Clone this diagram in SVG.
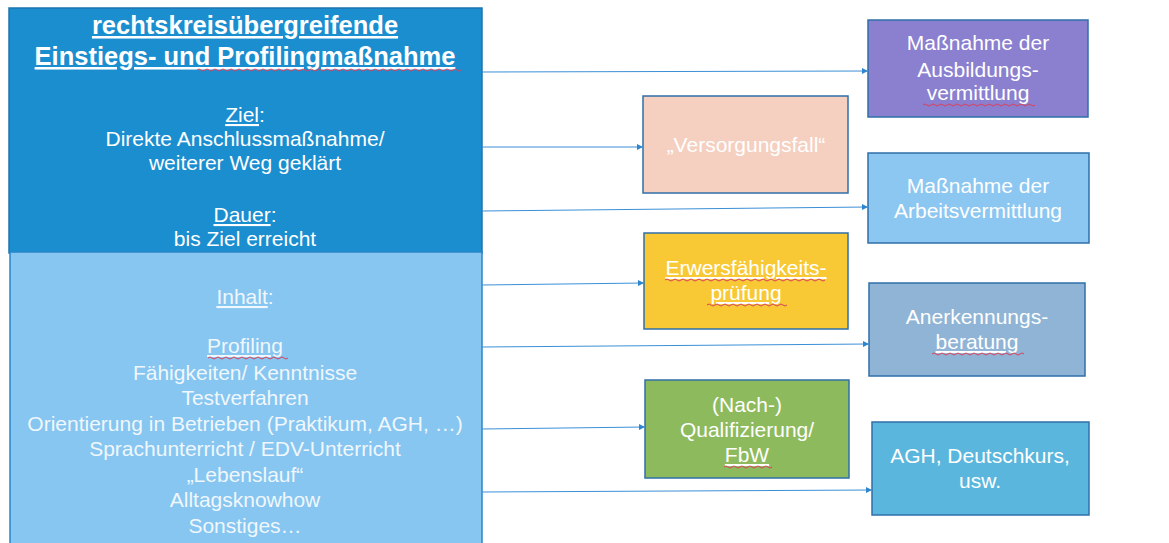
<svg xmlns="http://www.w3.org/2000/svg" width="1169" height="543" viewBox="0 0 1169 543">
<defs>
<style>
.t{font-family:"Liberation Sans",Arial,sans-serif;font-size:21px;text-anchor:middle;fill:#ffffff}
.lt{fill:#f0f7fd}
.b{font-weight:bold;font-size:25.5px}
.u{text-decoration:underline}
.box{stroke:#2f6fa8;stroke-width:1.5}
.c{stroke:#3a8fd6;stroke-width:1;fill:none;marker-end:url(#ah)}
.sp{stroke:#d9405a;stroke-width:1;fill:none}
</style>
<marker id="ah" viewBox="0 0 8 8" refX="8" refY="4" markerWidth="6" markerHeight="6" markerUnits="userSpaceOnUse" orient="auto">
<path d="M0,0 L8,4 L0,8 Z" fill="#2f86cf"/>
</marker>
</defs>
<rect width="1169" height="543" fill="#ffffff"/>

<g id="main">
<rect x="9" y="8" width="473" height="245" fill="#1b8ed0" stroke="#1f74b0" stroke-width="1.5"/>
<rect x="10" y="252" width="472" height="295" fill="#86c6f0" stroke="#2a86c8" stroke-width="1.5"/>
<text class="t b u" x="245" y="34">rechtskreisübergreifende</text>
<text class="t b u" x="245" y="65">Einstiegs- und Profilingmaßnahme</text>
<text class="t" x="245" y="122"><tspan class="u">Ziel</tspan>:</text>
<text class="t" x="245" y="146">Direkte Anschlussmaßnahme/</text>
<text class="t" x="245" y="170">weiterer Weg geklärt</text>
<text class="t" x="245" y="222"><tspan class="u">Dauer</tspan>:</text>
<text class="t" x="245" y="246">bis Ziel erreicht</text>
<text class="t lt" x="245" y="304"><tspan class="u">Inhalt</tspan>:</text>
<text class="t lt u" x="245" y="353">Profiling</text>
<text class="t lt" x="245" y="380">Fähigkeiten/ Kenntnisse</text>
<text class="t lt" x="245" y="405">Testverfahren</text>
<text class="t lt" x="245" y="431">Orientierung in Betrieben (Praktikum, AGH, …)</text>
<text class="t lt" x="245" y="456">Sprachunterricht / EDV-Unterricht</text>
<text class="t lt" x="245" y="482">„Lebenslauf“</text>
<text class="t lt" x="245" y="507">Alltagsknowhow</text>
<text class="t lt" x="245" y="533">Sonstiges…</text>
<path class="sp" d="M197,70 q2,-2 4,0 t4,0 t4,0 t4,0 t4,0 t4,0 t4,0 t4,0 t4,0 t4,0 t4,0 t4,0 t4,0 t4,0 t4,0 t4,0 t4,0 t4,0 t4,0 t4,0 t4,0 t4,0 t4,0 t4,0 t4,0 t4,0 t4,0 t4,0 t4,0 t4,0 t4,0 t4,0 t4,0 t4,0 t4,0 t4,0 t4,0 t4,0 t4,0 t4,0 t4,0 t4,0 t4,0 t4,0 t4,0 t4,0 t4,0 t4,0 t4,0 t4,0 t4,0 t4,0 t4,0 t4,0 t4,0 t4,0 t4,0 t4,0 t4,0 t4,0 t4,0 t4,0 t4,0 t4,0 t4,0 t4,0"/>
<path class="sp" d="M208,358 q2,-2 4,0 t4,0 t4,0 t4,0 t4,0 t4,0 t4,0 t4,0 t4,0 t4,0 t4,0 t4,0 t4,0 t4,0 t4,0 t4,0 t4,0 t4,0 t4,0 t4,0"/>
</g>

<g id="versorgungsfall">
<rect class="box" x="643" y="96" width="205" height="97" fill="#f5cfc0"/>
<text class="t" x="746" y="152" fill="#fbf1ec">„Versorgungsfall“</text>
</g>

<g id="erwerbsfaehigkeit">
<rect class="box" x="644" y="233" width="204" height="96" fill="#f8c935"/>
<text class="t u" x="746" y="275" fill="#fdf1c8">Erwersfähigkeits-</text>
<text class="t u" x="746" y="300" fill="#fdf1c8">prüfung</text>
<path class="sp" d="M665,280 q2,-2 4,0 t4,0 t4,0 t4,0 t4,0 t4,0 t4,0 t4,0 t4,0 t4,0 t4,0 t4,0 t4,0 t4,0 t4,0 t4,0 t4,0 t4,0 t4,0 t4,0 t4,0 t4,0 t4,0 t4,0 t4,0 t4,0 t4,0 t4,0 t4,0 t4,0 t4,0 t4,0 t4,0 t4,0 t4,0 t4,0 t4,0 t4,0 t4,0 t4,0" stroke="#e05a2a"/>
<path class="sp" d="M707,305 q2,-2 4,0 t4,0 t4,0 t4,0 t4,0 t4,0 t4,0 t4,0 t4,0 t4,0 t4,0 t4,0 t4,0 t4,0 t4,0 t4,0 t4,0 t4,0 t4,0 t4,0" stroke="#e05a2a"/>
</g>

<g id="qualifizierung">
<rect class="box" x="645" y="380" width="204" height="98" fill="#8dba5d"/>
<text class="t" x="747" y="412" fill="#eef5e4">(Nach-)</text>
<text class="t" x="747" y="437" fill="#eef5e4">Qualifizierung/</text>
<text class="t u" x="747" y="462" fill="#eef5e4">FbW</text>
<path class="sp" d="M724,467 q2,-2 4,0 t4,0 t4,0 t4,0 t4,0 t4,0 t4,0 t4,0 t4,0 t4,0 t4,0 t4,0"/>
</g>

<g id="ausbildungsvermittlung">
<rect class="box" x="868" y="20" width="220" height="97" fill="#8a80cf"/>
<text class="t" x="978" y="50" fill="#f1effa">Maßnahme der</text>
<text class="t" x="978" y="77" fill="#f1effa">Ausbildungs-</text>
<text class="t" x="978" y="100" fill="#f1effa">vermittlung</text>
<path class="sp" d="M923,105 q2,-2 4,0 t4,0 t4,0 t4,0 t4,0 t4,0 t4,0 t4,0 t4,0 t4,0 t4,0 t4,0 t4,0 t4,0 t4,0 t4,0 t4,0 t4,0 t4,0 t4,0 t4,0 t4,0 t4,0 t4,0 t4,0 t4,0 t4,0 t4,0"/>
</g>

<g id="arbeitsvermittlung">
<rect class="box" x="868" y="153" width="221" height="90" fill="#8cc7f1"/>
<text class="t" x="978" y="193" fill="#f1f8fe">Maßnahme der</text>
<text class="t" x="978" y="218" fill="#f1f8fe">Arbeitsvermittlung</text>
</g>

<g id="anerkennungsberatung">
<rect class="box" x="869" y="283" width="216" height="93" fill="#90b4d5"/>
<text class="t" x="977" y="324" fill="#eef3f9">Anerkennungs-</text>
<text class="t u" x="977" y="349" fill="#eef3f9">beratung</text>
<path class="sp" d="M932,354 q2,-2 4,0 t4,0 t4,0 t4,0 t4,0 t4,0 t4,0 t4,0 t4,0 t4,0 t4,0 t4,0 t4,0 t4,0 t4,0 t4,0 t4,0 t4,0 t4,0 t4,0 t4,0 t4,0 t4,0"/>
</g>

<g id="agh">
<rect class="box" x="872" y="422" width="217" height="93" fill="#5ab6dd"/>
<text class="t" x="980" y="463" fill="#eaf6fb">AGH, Deutschkurs,</text>
<text class="t" x="980" y="488" fill="#eaf6fb">usw.</text>
</g>

<g id="connectors">
<line class="c" x1="482" y1="72" x2="868" y2="71"/>
<line class="c" x1="482" y1="147" x2="643" y2="147"/>
<line class="c" x1="482" y1="211" x2="868" y2="207"/>
<line class="c" x1="482" y1="285" x2="644" y2="283"/>
<line class="c" x1="482" y1="347" x2="869" y2="344"/>
<line class="c" x1="482" y1="429" x2="645" y2="427"/>
<line class="c" x1="482" y1="492" x2="872" y2="490"/>
</g>
</svg>
